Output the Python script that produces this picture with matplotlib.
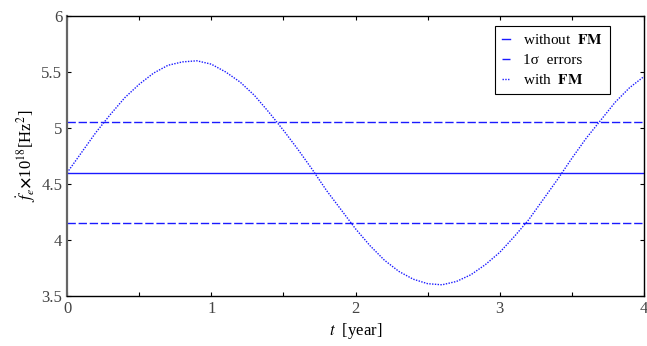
import numpy as np
import matplotlib
matplotlib.use('Agg')
import matplotlib.pyplot as plt
from matplotlib.ticker import MultipleLocator

# values
t = np.linspace(0, 4, 41)
with_fm = [4.60, 4.78, 4.96, 5.12, 5.27, 5.39, 5.49, 5.56, 5.59, 5.60,
           5.57, 5.50, 5.41, 5.29, 5.14, 4.98, 4.81, 4.63, 4.44, 4.27,
           4.10, 3.95, 3.82, 3.72, 3.65, 3.61, 3.60, 3.63, 3.69, 3.78,
           3.89, 4.03, 4.18, 4.36, 4.54, 4.73, 4.91, 5.07, 5.23, 5.36,
           5.46]
without_fm = 4.60
sigma_upper = 5.05
sigma_lower = 4.15

plt.rcParams['font.family'] = ['Liberation Serif', 'DejaVu Serif']
plt.rcParams['mathtext.fontset'] = 'stix'

fig = plt.figure(figsize=(6.47, 3.46), dpi=100)
ax = fig.add_axes([0.1036, 0.1445, 0.8918, 0.8093])

blue = '#1a1aff'
ax.plot([0, 4], [without_fm, without_fm], color=blue, lw=1.0, ls='-', label='without  $\\mathbf{FM}$')
ax.plot([0, 4], [sigma_upper, sigma_upper], color=blue, lw=1.0, ls=(0, (6, 2)), label='1\u03c3  errors')
ax.plot([0, 4], [sigma_lower, sigma_lower], color=blue, lw=1.0, ls=(0, (6, 2)))
ax.plot(t, with_fm, color=blue, lw=1.0, ls=(0, (1, 1)), label='with  $\\mathbf{FM}$')

ax.set_xlim(0, 4)
ax.set_ylim(3.5, 6)
ax.xaxis.set_major_locator(MultipleLocator(1))
ax.xaxis.set_minor_locator(MultipleLocator(0.5))
ax.set_yticks([3.5, 4, 4.5, 5, 5.5, 6])
ax.set_yticklabels(['3.5', '4', '4.5', '5', '5.5', '6'])
ax.tick_params(which='both', direction='in', top=True, right=True,
               labelsize=12, labelcolor='#444444', length=3, width=0.8)
for s in ax.spines.values():
    s.set_linewidth(1.0)
ax.spines['left'].set_color('#666666')
ax.spines['left'].set_linewidth(1.6)

ax.set_xlabel('$t$  [year]', fontsize=12, labelpad=3)
ax.set_ylabel('$\\dot{f}_e$$\\mathbf{\\times}$10$^{18}$[Hz$^2$]', fontsize=12, labelpad=2)

leg = ax.legend(loc='upper right', bbox_to_anchor=(0.954, 0.99), fontsize=11,
                handlelength=0.5, handletextpad=0.9, borderpad=0.45,
                labelspacing=0.4, fancybox=False, framealpha=1,
                edgecolor='black')
leg.get_frame().set_linewidth(0.8)

fig.savefig('out.png', dpi=100)
